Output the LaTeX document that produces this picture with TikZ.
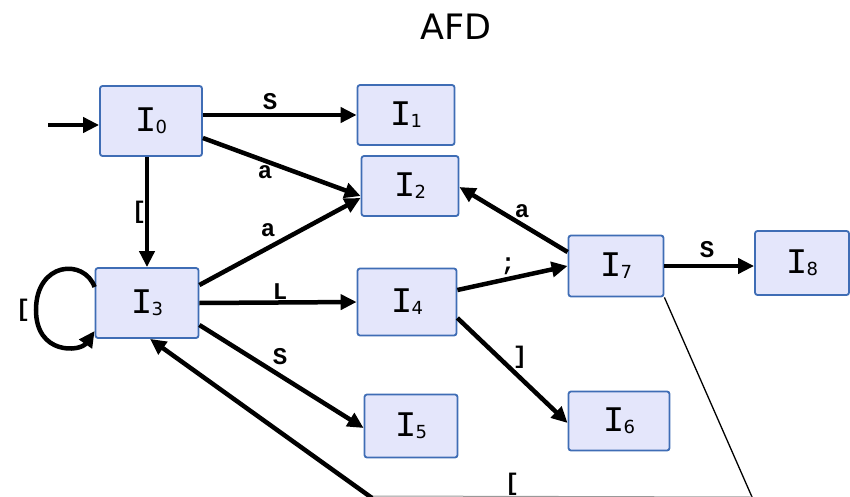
\documentclass[tikz,border=0pt]{standalone}
\usepackage{fontspec}
\setmainfont{DejaVu Sans}
\newfontfamily\monof{Liberation Mono}
\newfontfamily\monobf{Liberation Mono Bold}
\newfontfamily\subf{DejaVu Sans}
\usetikzlibrary{arrows.meta}
\definecolor{nodefill}{HTML}{E4E6FB}
\definecolor{nodeline}{HTML}{3F6DB5}
\newcommand{\st}[1]{{\fontsize{36}{36}\selectfont\monof I}\kern-1pt\raisebox{-0.4ex}{\fontsize{18}{18}\selectfont\subf #1}}
\tikzset{
  state/.style={draw=nodeline, fill=nodefill, line width=1.8pt, rounded corners=2.5pt, inner sep=0pt, minimum width=#1},
  trans/.style={line width=4.5pt, -{Triangle[length=16pt,width=15pt]}},
  lab/.style={font=\fontsize{24}{24}\selectfont\monobf, inner sep=0pt},
}
\begin{document}
\begin{tikzpicture}[x=1pt,y=-1pt]
\useasboundingbox (0,0) rectangle (850,497);
\node[font=\fontsize{35}{35}\selectfont] (title) at (456,27) {AFD};
\node[state=102pt, minimum height=70pt] (I0) at (151,121) {\st{0}};
\node[state=97pt, minimum height=60pt] (I1) at (406,115) {\st{1}};
\node[state=97pt, minimum height=60pt] (I2) at (410,186) {\st{2}};
\node[state=103pt, minimum height=70pt] (I3) at (147,303) {\st{3}};
\node[state=99pt, minimum height=67pt] (I4) at (407,302) {\st{4}};
\node[state=93pt, minimum height=63pt] (I5) at (411,426) {\st{5}};
\node[state=101pt, minimum height=59pt] (I6) at (619,421) {\st{6}};
\node[state=95pt, minimum height=61pt] (I7) at (616,266) {\st{7}};
\node[state=94pt, minimum height=64pt] (I8) at (802,263) {\st{8}};
\coordinate (start) at (48,125);
\coordinate (b1) at (752,497);
\coordinate (b2) at (370,496);
\coordinate (b3) at (372,498);
% edges
\draw[trans] (start) -- (I0.west |- start);
\draw[trans] (I0.east |- I1) -- (I1.west);
\draw[trans] ([yshift=-17pt]I0.east) -- ([yshift=-10pt]I2.west);
\draw[trans] ([xshift=-4pt]I0.south) -- ([xshift=0pt]I3.north);
\draw[trans] ([yshift=18pt]I3.east) -- ([yshift=-12pt]I2.west);
\draw[trans] (I3.east) -- (I4.west);
\draw[trans] ([yshift=-22pt]I3.east) -- ([yshift=-2pt]I5.west);
\draw[trans] ([yshift=12pt]I4.east) -- (I7.west);
\draw[trans] ([yshift=-16pt]I4.east) -- ([yshift=-2pt]I6.west);
\draw[trans] ([yshift=14pt]I7.west) -- ([yshift=-1pt]I2.east);
\draw[trans] (I7.east) -- (I8.west |- I7);
\draw[trans] ([yshift=16pt]I3.west) .. controls (84,258) and (36,262) .. (36,310) .. controls (36,355) and (80,352) .. ([yshift=-28pt]I3.west);
\draw[line width=1.3pt] (I7.south east) -- (b1);
\draw[line width=1pt, black!40] (b2) -- (b1);
\draw[trans] (b3) -- ([xshift=3pt]I3.south);
% labels
\node[lab] (l1) at (270,102) {S};
\node[lab] (l2) at (265,172) {a};
\node[lab] (l3) at (139,212) {[};
\node[lab] (l4) at (268,230) {a};
\node[lab] (l5) at (280,292) {L};
\node[lab] (l6) at (280,357) {S};
\node[lab] (l7) at (23,310) {[};
\node[lab] (l8) at (508,266) {;};
\node[lab] (l9) at (520,357) {]};
\node[lab] (l10) at (522,211) {a};
\node[lab] (l11) at (707,250) {S};
\node[lab] (l12) at (512,484) {[};
\end{tikzpicture}
\end{document}
